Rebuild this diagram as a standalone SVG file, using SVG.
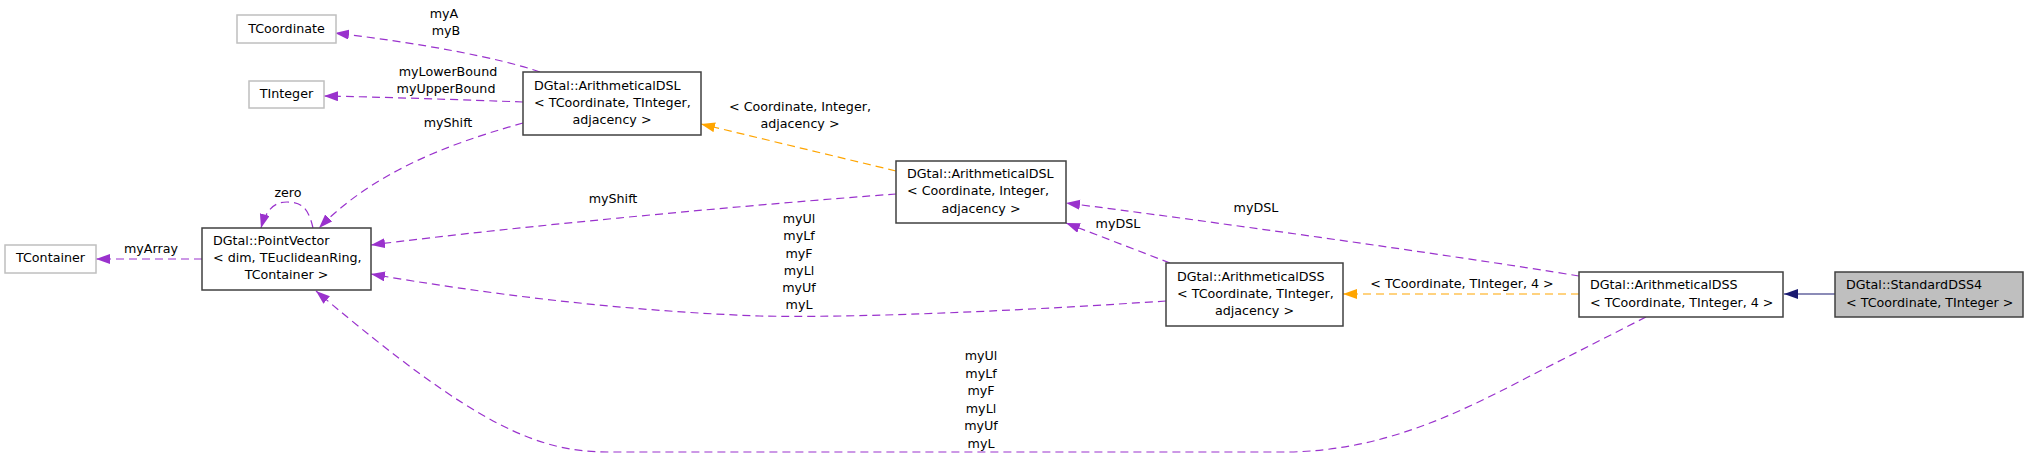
<svg xmlns="http://www.w3.org/2000/svg" width="2029" height="457" viewBox="0 0 2029 457">
<style>
text{font-family:"DejaVu Sans","Liberation Sans",sans-serif;font-size:12.7px;fill:#000}
.c{text-anchor:middle}
.box{fill:#fff;stroke:#404040;stroke-width:1.5}
.ext{fill:#fff;stroke:#bfbfbf;stroke-width:1.5}
.cur{fill:#bfbfbf;stroke:#404040;stroke-width:1.5}
.p{fill:none;stroke:#9a32cd;stroke-width:1.2;stroke-dasharray:8,5;marker-end:url(#ap)}
.o{fill:none;stroke:#ffa500;stroke-width:1.2;stroke-dasharray:8,5;marker-end:url(#ao)}
.b{fill:none;stroke:#191970;stroke-width:1.2;marker-end:url(#ab)}
</style>
<defs>
<marker id="ap" markerUnits="userSpaceOnUse" markerWidth="15" markerHeight="11" refX="14" refY="5" orient="auto"><path d="M0,0 L14,5 L0,10 z" fill="#9a32cd"/></marker>
<marker id="ao" markerUnits="userSpaceOnUse" markerWidth="15" markerHeight="11" refX="14" refY="5" orient="auto"><path d="M0,0 L14,5 L0,10 z" fill="#ffa500"/></marker>
<marker id="ab" markerUnits="userSpaceOnUse" markerWidth="15" markerHeight="11" refX="14" refY="5" orient="auto"><path d="M0,0 L14,5 L0,10 z" fill="#191970"/></marker>
</defs>
<rect width="2029" height="457" fill="#fff"/>
<g id="edges">
<path class="p" d="M540,72 C500,58 420,43 335,33"/>
<text class="c" x="444" y="18">myA</text>
<text class="c" x="446" y="35">myB</text>
<path class="p" d="M523,102 C470,100 380,97 324,96"/>
<text class="c" x="448" y="76">myLowerBound</text>
<text class="c" x="446" y="93">myUpperBound</text>
<path class="p" d="M523,123 C470,138 380,165 319,228"/>
<text class="c" x="448" y="127">myShift</text>
<path class="p" d="M313,228 C308,206 300,202 287,202 C274,202 266,210 261,228"/>
<text class="c" x="288" y="197">zero</text>
<path class="p" d="M202,259 L96,259"/>
<text class="c" x="151" y="253">myArray</text>
<path class="o" d="M896,171 L701,124"/>
<text class="c" x="800" y="111">&lt; Coordinate, Integer,</text>
<text class="c" x="800" y="128">adjacency &gt;</text>
<path class="p" d="M896,194 C760,204 520,226 371,245"/>
<text class="c" x="613" y="203">myShift</text>
<path class="p" d="M1166,301 C1000,312 850,318 760,316 C620,311 480,293 371,274"/>
<text class="c" x="799" y="223">myUl</text>
<text class="c" x="799" y="240">myLf</text>
<text class="c" x="799" y="257.5">myF</text>
<text class="c" x="799" y="275">myLl</text>
<text class="c" x="799" y="292">myUf</text>
<text class="c" x="799" y="309">myL</text>
<path class="p" d="M1170,263 L1066,223"/>
<text class="c" x="1118" y="228">myDSL</text>
<path class="p" d="M1579,276 C1450,255 1200,220 1066,203"/>
<text class="c" x="1256" y="212">myDSL</text>
<path class="o" d="M1579,294 L1343,294"/>
<text class="c" x="1462" y="288">&lt; TCoordinate, TInteger, 4 &gt;</text>
<path class="p" d="M1646,317 L1530,376 C1450,418 1380,450 1290,452 L610,452 C540,452 480,430 316,291"/>
<text class="c" x="981" y="360">myUl</text>
<text class="c" x="981" y="377.5">myLf</text>
<text class="c" x="981" y="395">myF</text>
<text class="c" x="981" y="412.5">myLl</text>
<text class="c" x="981" y="430">myUf</text>
<text class="c" x="981" y="447.5">myL</text>
<path class="b" d="M1835,294 L1784,294"/>
</g>
<g id="TCoordinate">
<rect class="ext" x="237" y="15" width="99" height="28"/>
<text class="c" x="286.5" y="33">TCoordinate</text>
</g>
<g id="TInteger">
<rect class="ext" x="249" y="81" width="75" height="27"/>
<text class="c" x="286.5" y="98">TInteger</text>
</g>
<g id="TContainer">
<rect class="ext" x="5" y="245" width="91" height="28"/>
<text class="c" x="50.5" y="262">TContainer</text>
</g>
<g id="PointVector">
<rect class="box" x="202" y="228" width="169" height="62"/>
<text x="213" y="245">DGtal::PointVector</text>
<text x="213" y="262">&lt; dim, TEuclideanRing,</text>
<text class="c" x="286.5" y="279">TContainer &gt;</text>
</g>
<g id="ArithmeticalDSL_T">
<rect class="box" x="523" y="72" width="178" height="63"/>
<text x="534" y="90">DGtal::ArithmeticalDSL</text>
<text x="534" y="107">&lt; TCoordinate, TInteger,</text>
<text class="c" x="612" y="124">adjacency &gt;</text>
</g>
<g id="ArithmeticalDSL_C">
<rect class="box" x="896" y="161" width="170" height="62"/>
<text x="907" y="178">DGtal::ArithmeticalDSL</text>
<text x="907" y="195">&lt; Coordinate, Integer,</text>
<text class="c" x="981" y="212.5">adjacency &gt;</text>
</g>
<g id="ArithmeticalDSS_adj">
<rect class="box" x="1166" y="263" width="177" height="63"/>
<text x="1177" y="280.5">DGtal::ArithmeticalDSS</text>
<text x="1177" y="297.5">&lt; TCoordinate, TInteger,</text>
<text class="c" x="1254.5" y="314.5">adjacency &gt;</text>
</g>
<g id="ArithmeticalDSS_4">
<rect class="box" x="1579" y="272" width="204" height="45"/>
<text x="1590" y="289">DGtal::ArithmeticalDSS</text>
<text x="1590" y="306.5">&lt; TCoordinate, TInteger, 4 &gt;</text>
</g>
<g id="StandardDSS4">
<rect class="cur" x="1835" y="272" width="188" height="45"/>
<text x="1846" y="289">DGtal::StandardDSS4</text>
<text x="1846" y="306.5">&lt; TCoordinate, TInteger &gt;</text>
</g>
</svg>
